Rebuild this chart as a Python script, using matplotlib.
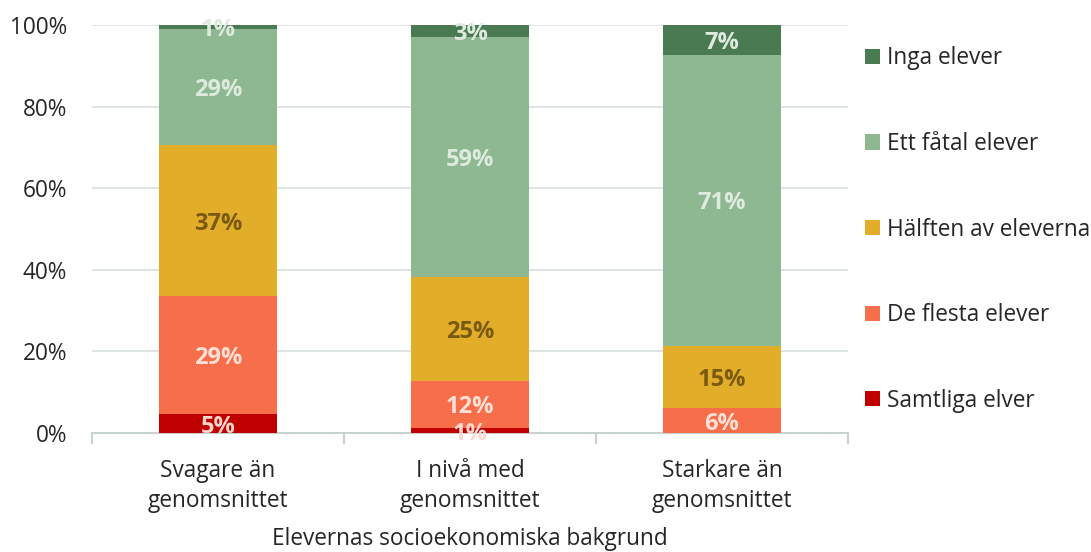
import matplotlib
matplotlib.use("Agg")
import matplotlib.pyplot as plt
import numpy as np
from matplotlib.patches import Patch

plt.rcParams['font.family'] = ['Open Sans', 'DejaVu Sans']

categories = ["Svagare än\ngenomsnittet", "I nivå med\ngenomsnittet", "Starkare än\ngenomsnittet"]
series_names = ["Samtliga elver", "De flesta elever", "Hälften av eleverna", "Ett fåtal elever", "Inga elever"]
samtliga = [4.6, 1.2, 0.0]
de_flesta = [29.0, 11.6, 6.1]
halften = [36.9, 25.4, 15.2]
ett_fatal = [28.6, 58.8, 71.4]
inga = [0.9, 3.0, 7.3]
xlabel = "Elevernas socioekonomiska bakgrund"
yticks = [0, 20, 40, 60, 80, 100]

series = [samtliga, de_flesta, halften, ett_fatal, inga]
colors = ["#c00000", "#f76e4a", "#e2ad28", "#8db892", "#4a7a52"]
label_colors = ["#ffd6cc", "#ffe0d6", "#7a5a10", "#dfeadf", "#dfeadf"]
FS = 16.3

fig = plt.figure(figsize=(10.91, 5.52), dpi=100)
ax = fig.add_axes([0.0843, 0.2156, 0.6930, 0.7391])

x = np.arange(len(categories))
bottom = np.zeros(len(categories))
for vals, col, lc in zip(series, colors, label_colors):
    vals = np.array(vals)
    ax.bar(x, vals, bottom=bottom, width=0.465, color=col, edgecolor='none', zorder=3)
    for xi, v, b in zip(x, vals, bottom):
        if v > 0:
            ax.text(xi, b + v / 2, f"{round(v)}%", ha='center', va='center_baseline',
                    fontsize=17, fontweight='bold', color=lc, zorder=4)
    bottom += vals

ax.set_xlim(-0.5, 2.5)
ax.set_ylim(0, 100)
ax.set_yticks(yticks)
ax.set_yticklabels([f"{t}%" for t in yticks])
ax.yaxis.grid(True, color='#d9dfdf', linewidth=1.2, zorder=0)
ax.set_axisbelow(True)
ax.tick_params(axis='y', length=0, pad=18, labelsize=FS, labelcolor='#262626')
ax.set_xticks(x)
ax.set_xticklabels(categories, fontsize=FS, color='#262626', linespacing=1.32)
ax.set_xticks([-0.5, 0.5, 1.5, 2.5], minor=True)
ax.tick_params(axis='x', which='major', length=0, pad=19)
ax.tick_params(axis='x', which='minor', length=8, width=1.5, color='#c8d1d1', direction='out')
for s in ['top', 'right', 'left']:
    ax.spines[s].set_visible(False)
ax.spines['bottom'].set_color('#c8d1d1')
ax.spines['bottom'].set_linewidth(1.5)
ax.set_xlabel(xlabel, fontsize=FS, color='#262626', labelpad=10)

handles = [Patch(facecolor=c, edgecolor='none') for c in colors][::-1]
labels = series_names[::-1]
fig.legend(handles, labels, loc='upper left', bbox_to_anchor=(0.793, 0.916),
           frameon=False, fontsize=FS, handlelength=0.65, handleheight=0.65,
           handletextpad=0.3, labelspacing=2.72, labelcolor='#262626',
           borderpad=0, borderaxespad=0)

fig.savefig("out.png", dpi=100)
